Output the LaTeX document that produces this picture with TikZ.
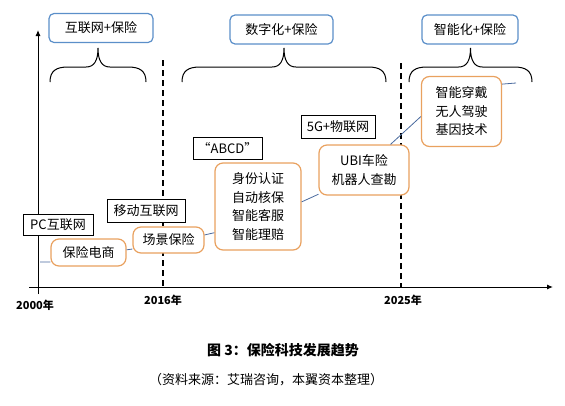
\documentclass[tikz,border=0pt]{standalone}
\usepackage{fontspec}
\newfontfamily\cjk{Noto Sans CJK SC}
\usetikzlibrary{arrows.meta}
\definecolor{stageblue}{HTML}{5B8FC9}
\definecolor{techorange}{HTML}{E9A15F}
\definecolor{trendblue}{HTML}{4A6A9E}

\begin{document}
\begin{tikzpicture}[
  x=1pt, y=-1pt,
  every node/.style={font=\cjk\fontsize{13}{18.5}\selectfont},
  stage/.style={draw=stageblue, fill=white, line width=1.2pt, rounded corners=5pt, minimum height=29},
  tech/.style={draw, fill=white, line width=1pt, minimum height=22},
  usecase/.style={draw=techorange, fill=white, line width=1.2pt, rounded corners=8pt, align=center},
  trend/.style={draw=trendblue, line width=0.8pt},
  year/.style={font=\cjk\bfseries\fontsize{11}{13}\selectfont},
  timeaxis/.style={-{Latex[length=6pt,width=5pt]}, line width=1pt},
  divider/.style={line width=1.2pt, dash pattern=on 6pt off 4pt},
  curly/.style={line width=1pt}
]
  \useasboundingbox (0,0) rectangle (565,405);

  % axes and period dividers
  \coordinate (origin) at (38,287);
  \coordinate (xend) at (553,287);
  \coordinate (yend) at (38,30);
  \draw[timeaxis] (29,287) -- (xend);
  \draw[timeaxis] (38,294) -- (yend);
  \draw[divider] (163,60) -- (163,287);
  \draw[divider] (401,63) -- (401,287);

  \node[year] (y2000) at (35,305) {2000年};
  \node[year] (y2016) at (163,300) {2016年};
  \node[year] (y2025) at (403,300) {2025年};

  % stages
  \node[stage, minimum width=104] (web) at (101,28) {互联网+保险};
  \node[stage, minimum width=103] (digital) at (281.5,29.5) {数字化+保险};
  \node[stage, minimum width=96] (smart) at (470,29.5) {智能化+保险};

  \foreach \l/\r in {50/146, 182/386, 409/532}{
    \pgfmathsetmacro\m{(\l+\r)/2}
    \draw[curly] (\l,82) .. controls (\l,71) and (\l+6,67) .. (\l+18,67) -- (\m-12,67)
      .. controls (\m-4,67) and (\m,61) .. (\m,48) .. controls (\m,61) and (\m+4,67) .. (\m+12,67)
      -- (\r-18,67) .. controls (\r-6,67) and (\r,71) .. (\r,82);
  }

  % trend line
  \coordinate (start) at (40,262);
  \coordinate (trendend) at (516,83);

  % technologies
  \node[tech, minimum width=70, minimum height=21] (pc) at (58,225) {PC互联网};
  \node[tech, minimum width=78, minimum height=23] (mobile) at (146,210.5) {移动互联网};
  \node[tech, minimum width=69] (abcd) at (227.5,148) {“ABCD”};
  \node[tech, minimum width=74, minimum height=23] (iot) at (338,126.5) {5G+物联网};

  % use cases
  \node[usecase, minimum width=75, minimum height=27] (ds) at (88.5,252.5) {保险电商};
  \node[usecase, minimum width=71, minimum height=26] (cj) at (168.5,240) {场景保险};
  \node[usecase, minimum width=86, minimum height=87] (sf) at (258,206.5) {身份认证\\自动核保\\智能客服\\智能理赔};
  \node[usecase, minimum width=90, minimum height=50] (ubi) at (364,170) {UBI车险\\机器人查勘};
  \node[usecase, minimum width=80, minimum height=70] (zn) at (461.5,111.5) {智能穿戴\\无人驾驶\\基因技术};

  \draw[trend] (start) -- (ds.194);
  \draw[trend] (ds.4) -- (cj.194);
  \draw[trend] (cj.8) -- (sf.211);
  \draw[trend] (sf.6) -- (ubi.208);
  \draw[trend] (ubi.44) -- (zn.187);
  \draw[trend] (zn.34) -- (trendend);

  % caption
  \node[font=\cjk\bfseries\fontsize{14}{16}\selectfont] (caption) at (283,350) {图 3：保险科技发展趋势};
  \node (source) at (266,380) {（资料来源：艾瑞咨询，本翼资本整理）};
\end{tikzpicture}
\end{document}
